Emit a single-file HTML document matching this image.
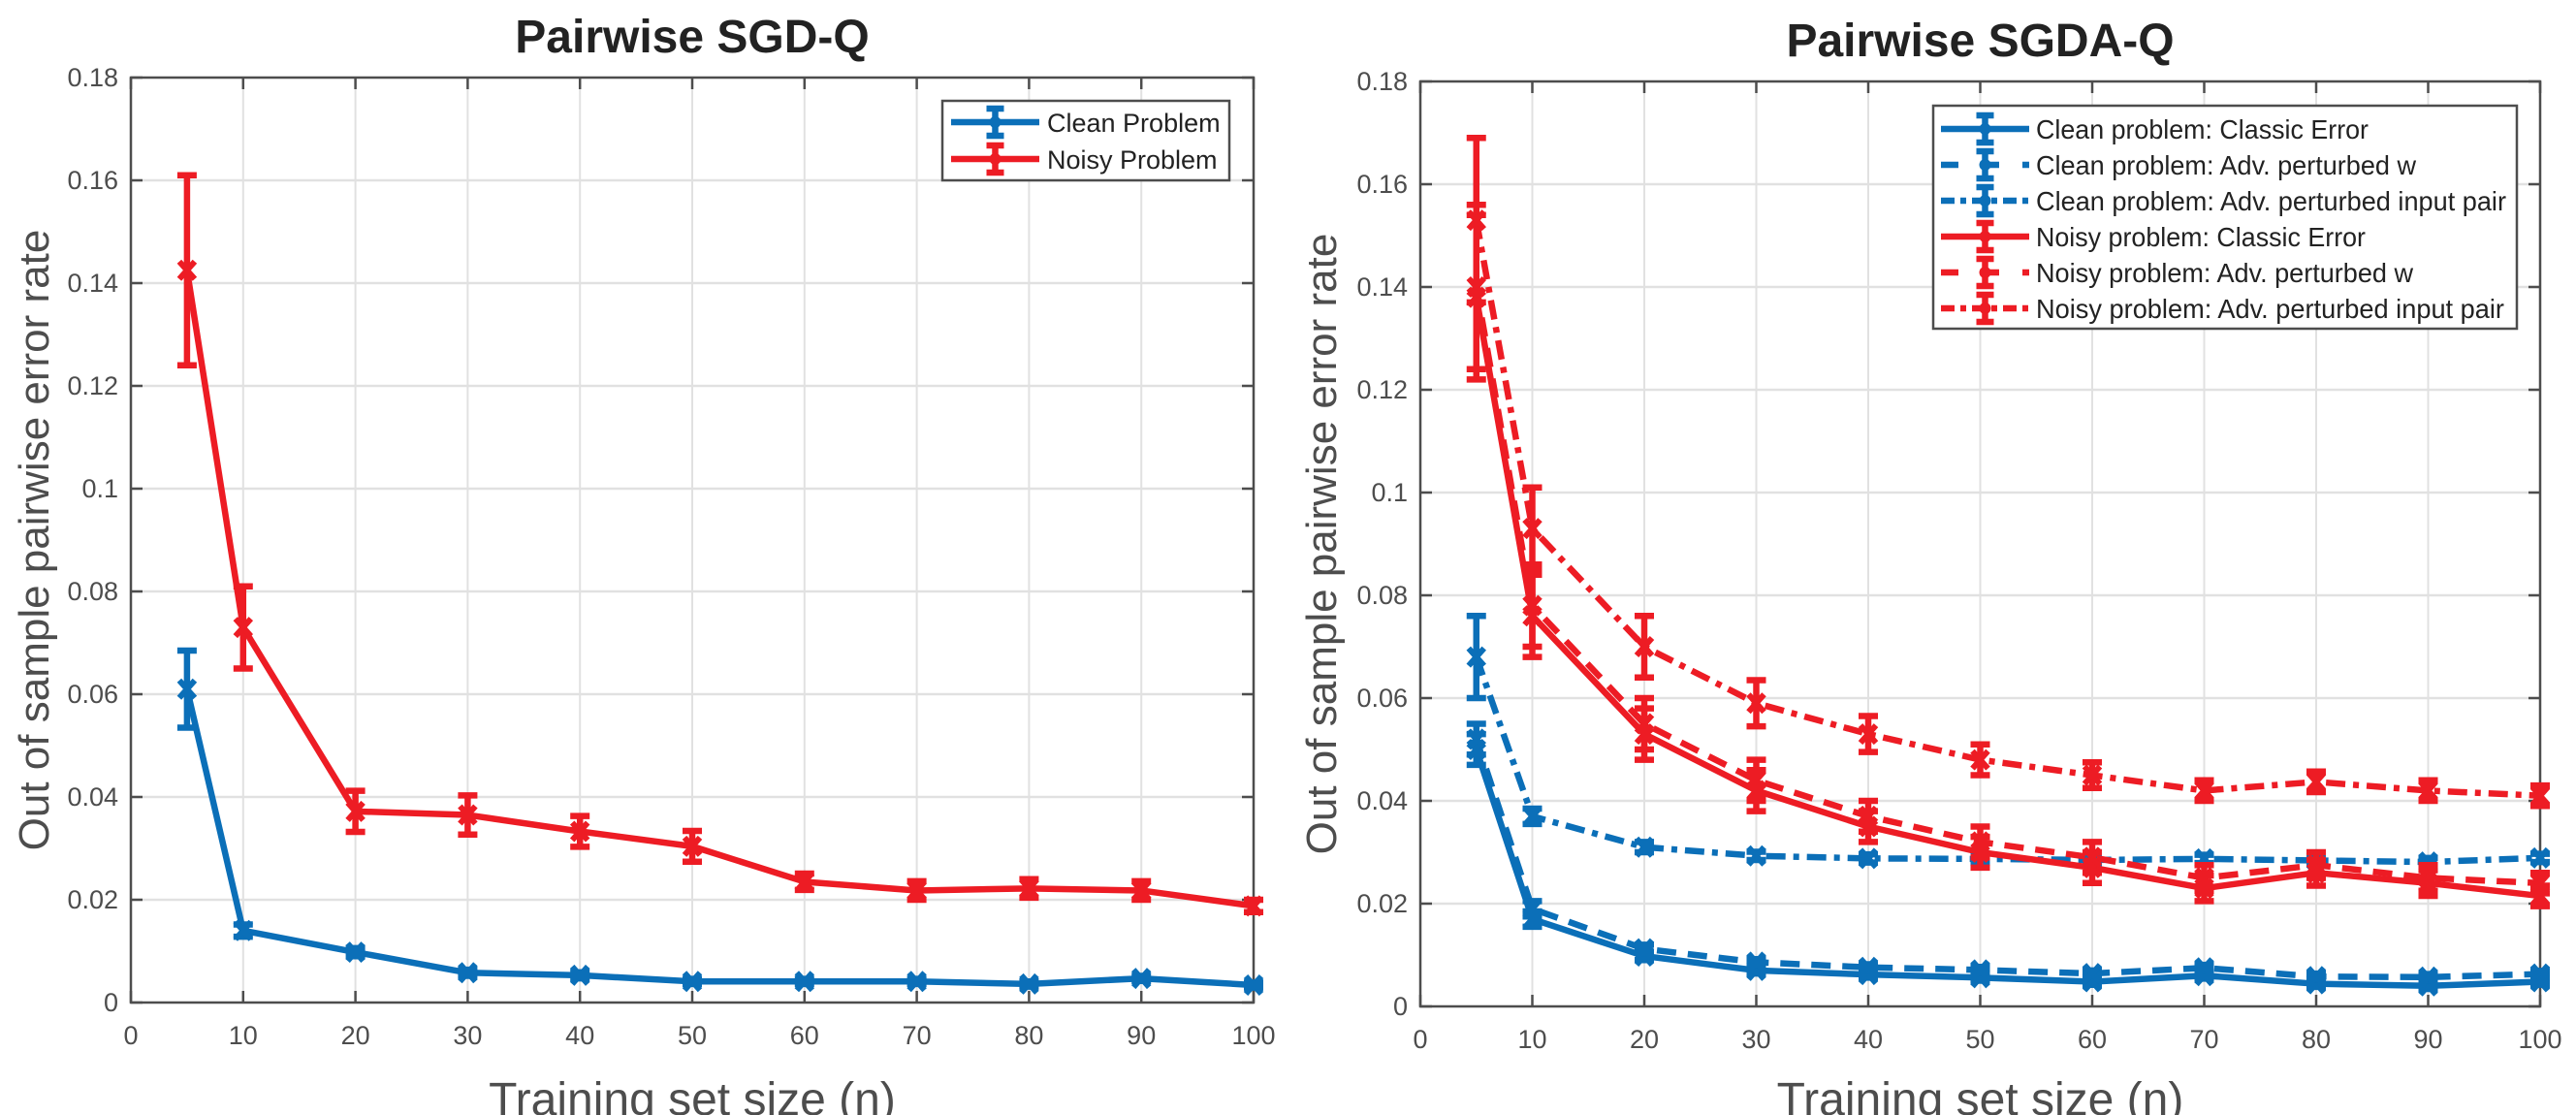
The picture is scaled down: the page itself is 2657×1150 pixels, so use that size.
<!DOCTYPE html>
<html><head><meta charset="utf-8">
<style>
html,body{margin:0;padding:0;background:#fff;}
svg{display:block;font-family:"Liberation Sans",Arial,sans-serif;}
</style></head>
<body>
<svg id="chart" width="2657" height="1150" viewBox="0 0 2657 1150" xmlns="http://www.w3.org/2000/svg">
<rect x="0" y="0" width="2657" height="1150" fill="#fff"/>
<g id="left"></g>
<g id="right"></g>
</svg>
<script>
// ---- shared axis data ----
const xTicks = [0,10,20,30,40,50,60,70,80,90,100];
const yTicks = [0,0.02,0.04,0.06,0.08,0.1,0.12,0.14,0.16,0.18];
const yTickLabels = ["0","0.02","0.04","0.06","0.08","0.1","0.12","0.14","0.16","0.18"];
const xs = [5,10,20,30,40,50,60,70,80,90,100];

// ---- left chart data ----
const leftCleanY   = [0.061,0.014,0.0098,0.0058,0.0053,0.0041,0.0041,0.0041,0.0036,0.0047,0.0034];
const leftCleanErr = [0.0075,0.0012,0.0008,0.0006,0.0006,0.0005,0.0005,0.0005,0.0005,0.0005,0.0005];
const leftNoisyY   = [0.1425,0.073,0.0372,0.0365,0.0333,0.0304,0.0235,0.0218,0.0222,0.0218,0.0188];
const leftNoisyErr = [0.0185,0.008,0.004,0.0038,0.003,0.003,0.0016,0.0018,0.0018,0.0018,0.0012];

// ---- right chart data ----
const cClassicY = [0.050,0.017,0.0098,0.0070,0.0062,0.0056,0.0048,0.0060,0.0044,0.0040,0.0048];
const cClassicE = [0.003,0.0015,0.0008,0.0006,0.0006,0.0006,0.0006,0.0006,0.0006,0.0006,0.0006];
const cAdvWY    = [0.052,0.019,0.0112,0.0086,0.0076,0.0071,0.0064,0.0075,0.0058,0.0057,0.0063];
const cAdvWE    = [0.003,0.0015,0.0008,0.0006,0.0006,0.0006,0.0006,0.0006,0.0006,0.0006,0.0006];
const cPairY    = [0.068,0.037,0.031,0.0293,0.0288,0.0287,0.0285,0.0287,0.0284,0.0281,0.0289];
const cPairE    = [0.008,0.0015,0.001,0.0008,0.0008,0.0008,0.0008,0.0008,0.0008,0.0008,0.0008];
const nClassicY = [0.138,0.076,0.053,0.042,0.035,0.030,0.027,0.023,0.026,0.024,0.0215];
const nClassicE = [0.016,0.008,0.005,0.004,0.003,0.003,0.003,0.0025,0.0025,0.0025,0.002];
const nAdvWY    = [0.140,0.078,0.055,0.044,0.037,0.032,0.029,0.025,0.0275,0.025,0.024];
const nAdvWE    = [0.016,0.008,0.005,0.004,0.003,0.003,0.003,0.0025,0.0025,0.0025,0.002];
const nPairY    = [0.153,0.093,0.070,0.059,0.053,0.048,0.045,0.042,0.0437,0.042,0.041];
const nPairE    = [0.016,0.008,0.006,0.0045,0.0035,0.003,0.0025,0.002,0.002,0.002,0.002];

const NS = "http://www.w3.org/2000/svg";
const BLUE = "#0B6FB8", RED = "#ED1C24";
function mk(tag, attrs, parent){
  const e = document.createElementNS(NS, tag);
  for (const k in attrs) e.setAttribute(k, attrs[k]);
  parent.appendChild(e);
  return e;
}

function makeAxes(g, px0, px1, py0, py1, title, ylabX){
  const X = v => px0 + (v/100)*(px1-px0);
  const Y = v => py0 - (v/0.18)*(py0-py1);
  for (const t of xTicks){
    if (t===0||t===100) continue;
    const l = mk("line",{x1:X(t),x2:X(t),y1:py1,y2:py0,stroke:"#e1e1e1","stroke-width":2},g);
    
    
  }
  for (const t of yTicks){
    if (t===0||Math.abs(t-0.18)<1e-9) continue;
    const l = mk("line",{x1:px0,x2:px1,y1:Y(t),y2:Y(t),stroke:"#e1e1e1","stroke-width":2.5},g);
    
    
  }
  const fr = mk("rect",{x:px0,y:py1,width:px1-px0,height:py0-py1,fill:"none",stroke:"#4d4d4d","stroke-width":2.5},g);
  
  
  xTicks.forEach(t=>{
    const a = mk("line",{x1:X(t),x2:X(t),y1:py0,y2:py0-12,stroke:"#4d4d4d","stroke-width":2.5},g);
    
    
    const b = mk("line",{x1:X(t),x2:X(t),y1:py1,y2:py1+12,stroke:"#4d4d4d","stroke-width":2.5},g);
    
    
    const tx = mk("text",{x:X(t),y:py0+43,"text-anchor":"middle","font-size":27,fill:"#4d4d4d"},g);
    tx.textContent = String(t);
    
    
  });
  yTicks.forEach((t,i)=>{
    const a = mk("line",{x1:px0,x2:px0+12,y1:Y(t),y2:Y(t),stroke:"#4d4d4d","stroke-width":2.5},g);
    
    
    const b = mk("line",{x1:px1,x2:px1-12,y1:Y(t),y2:Y(t),stroke:"#4d4d4d","stroke-width":2.5},g);
    
    
    const tx = mk("text",{x:px0-13,y:Y(t)+9,"text-anchor":"end","font-size":27,fill:"#4d4d4d"},g);
    tx.textContent = yTickLabels[i];
    
    
  });
  const tt = mk("text",{x:(px0+px1)/2,y:py1-26,"text-anchor":"middle","font-size":48,"font-weight":"bold",fill:"#222"},g);
  tt.textContent = title;
  
  
  const xl = mk("text",{x:(px0+px1)/2,y:1150,"text-anchor":"middle","font-size":48,fill:"#4d4d4d"},g);
  xl.textContent = "Training set size (n)";
  
  
  const ym = (py0+py1)/2;
  const yl = mk("text",{x:ylabX,y:ym,"text-anchor":"middle","font-size":44,fill:"#4d4d4d",transform:`rotate(-90 ${ylabX} ${ym})`},g);
  yl.textContent = "Out of sample pairwise error rate";
  
  
  return {X,Y};
}

function marker(g, x, y, color, name){
  const m = mk("path",{d:`M${x-8} ${y-9}L${x+8} ${y+9}M${x-8} ${y+9}L${x+8} ${y-9}`,stroke:color,"stroke-width":6,fill:"none"},g);
  
  
}

function series(g, ax, ys, es, color, dash, name){
  const pts = xs.map((x,i)=>`${ax.X(x)},${ax.Y(ys[i])}`).join(" ");
  const pl = mk("polyline",{points:pts,fill:"none",stroke:color,"stroke-width":6.5,"stroke-linejoin":"round"},g);
  if (dash) pl.setAttribute("stroke-dasharray",dash);
  
  
  xs.forEach((x,i)=>{
    const cx = ax.X(x), top = ax.Y(ys[i]+es[i]), bot = ax.Y(ys[i]-es[i]);
    const eb = mk("path",{d:`M${cx} ${top}V${bot}M${cx-10} ${top}H${cx+10}M${cx-10} ${bot}H${cx+10}`,stroke:color,"stroke-width":6.5,fill:"none"},g);
    
    
    marker(g, cx, ax.Y(ys[i]), color, name);
  });
}

function legend(g, x, y, w, h, entries, sx0, sx1, tx, rowY0, rowH, fs, tlen){
  const box = mk("rect",{x:x,y:y,width:w,height:h,fill:"#fff",stroke:"#4d4d4d","stroke-width":2.5},g);
  
  
  entries.forEach((e,i)=>{
    const cy = rowY0 + i*rowH, mx = (sx0+sx1)/2;
    const ln = mk("line",{x1:sx0,x2:sx1,y1:cy,y2:cy,stroke:e.c,"stroke-width":6.5},g);
    if (e.d) ln.setAttribute("stroke-dasharray",e.d);
    
    
    const eb = mk("path",{d:`M${mx} ${cy-14}V${cy+14}M${mx-9} ${cy-14}H${mx+9}M${mx-9} ${cy+14}H${mx+9}`,stroke:e.c,"stroke-width":6.5,fill:"none"},g);
    
    
    const c = mk("circle",{cx:mx,cy:cy,r:6,fill:e.c},g);
    
    
    const t = mk("text",{x:tx,y:cy+10,"font-size":fs,fill:"#222"},g);
    if (tlen) { t.setAttribute("textLength", tlen[i]); t.setAttribute("lengthAdjust","spacingAndGlyphs"); }
    t.textContent = e.t;
    
    
  });
}

const gL = document.getElementById("left");
const axL = makeAxes(gL, 135, 1293, 1034, 80, "Pairwise SGD-Q", 50);
series(gL, axL, leftNoisyY, leftNoisyErr, RED, null, "noisy-problem");
series(gL, axL, leftCleanY, leftCleanErr, BLUE, null, "clean-problem");
legend(gL, 972, 104, 296, 82, [
  {c:BLUE,d:null,t:"Clean Problem"},
  {c:RED,d:null,t:"Noisy Problem"}
], 981, 1072, 1080, 126, 38, 27, null);

const gR = document.getElementById("right");
const axR = makeAxes(gR, 1465, 2620, 1038, 84, "Pairwise SGDA-Q", 1378);
series(gR, axR, cClassicY, cClassicE, BLUE, null, "clean-classic");
series(gR, axR, cAdvWY, cAdvWE, BLUE, "20 12", "clean-adv-w");
series(gR, axR, cPairY, cPairE, BLUE, "20 8 6 8", "clean-adv-pair");
series(gR, axR, nClassicY, nClassicE, RED, null, "noisy-classic");
series(gR, axR, nAdvWY, nAdvWE, RED, "20 12", "noisy-adv-w");
series(gR, axR, nPairY, nPairE, RED, "20 8 6 8", "noisy-adv-pair");
legend(gR, 1994, 109, 602, 230, [
  {c:BLUE,d:null,t:"Clean problem: Classic Error"},
  {c:BLUE,d:"18 24",t:"Clean problem: Adv. perturbed w"},
  {c:BLUE,d:"14 6 6 6",t:"Clean problem: Adv. perturbed input pair"},
  {c:RED,d:null,t:"Noisy problem: Classic Error"},
  {c:RED,d:"18 24",t:"Noisy problem: Adv. perturbed w"},
  {c:RED,d:"14 6 6 6",t:"Noisy problem: Adv. perturbed input pair"}
], 2002, 2093, 2100, 133, 37, 28, [343, 392, 485, 340, 389, 483]);
</script>
</body></html>
